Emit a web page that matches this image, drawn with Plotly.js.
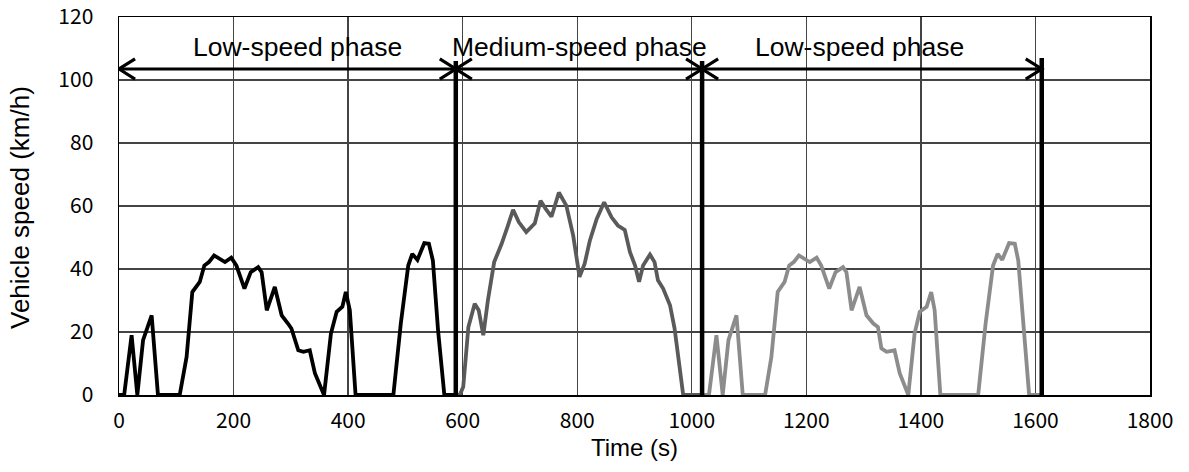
<!DOCTYPE html>
<html>
<head>
<meta charset="utf-8">
<script src="https://cdn.plot.ly/plotly-3.0.1.min.js"></script>
<style>html,body{margin:0;padding:0;background:#fff;}#chart{width:1189px;height:472px;}</style>
</head>
<body>
<div id="chart"></div>
<script>
// Phase 1: low-speed (0-588 s)
const lowTime1 = [0, 9, 22, 32, 42, 57, 68, 106, 118, 128, 141, 149, 157, 166, 185, 196, 205, 219, 230, 243, 249, 258, 272, 284, 295, 301, 313, 322, 333, 342, 358, 370, 380, 390, 396, 403, 413, 479, 492, 505, 512, 521, 533, 541, 548, 557, 568, 588];
const lowSpeed1 = [0, 0, 19, 0, 17.4, 25.3, 0, 0, 12.1, 32.7, 35.9, 41.1, 42.2, 44.3, 42.2, 43.6, 41.1, 33.8, 39, 40.6, 39, 26.9, 34.3, 25.3, 22.7, 21.1, 14.2, 13.7, 14.2, 6.9, 0, 19.5, 26.4, 28, 32.7, 26.9, 0, 0, 22.7, 41.1, 44.8, 42.9, 48.2, 48, 42.7, 20.6, 0, 0];

// Phase 2: medium-speed (588-1018 s)
const medTime = [588, 595, 601, 610, 621, 628, 636, 644, 655, 668, 679, 688, 698, 711, 726, 736, 745, 755, 768, 781, 793, 804, 813, 822, 834, 847, 860, 871, 883, 892, 901, 908, 915, 927, 935, 941, 950, 962, 970, 977, 985, 1018];
const medSpeed = [0, 0, 2.6, 21.6, 29, 26.9, 19, 30, 42.2, 48, 53.8, 58.8, 54.9, 51.7, 54.5, 61.7, 59.1, 56.6, 64.3, 60.1, 50.6, 37.5, 41.7, 49, 55.9, 61.2, 56.4, 53.8, 52.4, 45.4, 41.1, 35.9, 41.1, 44.6, 42.2, 36.4, 33.8, 28.5, 21.1, 12.1, 0, 0];

// Phase 3: low-speed (1018-1611 s)
const lowTime2 = [1018, 1030, 1043, 1054, 1064, 1078, 1089, 1128, 1139, 1150, 1162, 1170, 1178, 1187, 1206, 1218, 1226, 1240, 1251, 1264, 1270, 1279, 1293, 1305, 1317, 1325, 1331, 1340, 1354, 1363, 1378, 1389, 1398, 1410, 1418, 1424, 1434, 1500, 1513, 1526, 1534, 1542, 1554, 1564, 1570, 1579, 1589, 1611];
const lowSpeed2 = [0, 0, 19, 0, 17.4, 25.3, 0, 0, 12.1, 32.7, 35.9, 41.1, 42.2, 44.3, 42.2, 43.6, 41.1, 33.8, 39, 40.6, 39, 26.9, 34.3, 25.3, 22.7, 21.6, 14.8, 13.7, 14.2, 6.9, 0, 19.5, 26.4, 28, 32.7, 26.9, 0, 0, 22.7, 41.1, 44.8, 42.9, 48.2, 48, 42.7, 20.6, 0, 0];

// Phase annotations
const phaseBounds = [0, 588, 1018, 1611];
const phaseLabels = ["Low-speed phase", "Medium-speed phase", "Low-speed phase"];
const phaseLabelX = [312, 804, 1292];
const dividerTimes = [588, 1018, 1611];
const dividerTop = [106, 106, 107];
const arrowLevel = 103.5;
const labelLevel = 110.5;
const yTitleText = 'Vehicle speed (km/h)';
const xTitleText = 'Time (s)';

const lineStyle = (c) => ({color: c, width: 3.8});
const traces = [
  {x: lowTime1, y: lowSpeed1, type: 'scatter', mode: 'lines', line: lineStyle('#000000'), hoverinfo: 'skip'},
  {x: medTime, y: medSpeed, type: 'scatter', mode: 'lines', line: lineStyle('#5a5a5a'), hoverinfo: 'skip'},
  {x: lowTime2, y: lowSpeed2, type: 'scatter', mode: 'lines', line: lineStyle('#8c8c8c'), hoverinfo: 'skip'}
];

const shapes = [];
dividerTimes.forEach((t, i) => {
  shapes.push({type: 'line', xref: 'x', yref: 'y', x0: t, x1: t, y0: 0, y1: dividerTop[i], line: {color: '#000', width: 4.5}});
});
const headDx = 28, headDy = 3.2;
for (let i = 0; i < phaseBounds.length - 1; i++) {
  const a = phaseBounds[i], b = phaseBounds[i + 1];
  shapes.push({type: 'line', xref: 'x', yref: 'y', x0: a, x1: b, y0: arrowLevel, y1: arrowLevel, line: {color: '#000', width: 3.2}});
  shapes.push({type: 'path', xref: 'x', yref: 'y',
    path: `M ${a + headDx} ${arrowLevel + headDy} L ${a} ${arrowLevel} L ${a + headDx} ${arrowLevel - headDy}`,
    line: {color: '#000', width: 3.2}});
  shapes.push({type: 'path', xref: 'x', yref: 'y',
    path: `M ${b - headDx} ${arrowLevel + headDy} L ${b} ${arrowLevel} L ${b - headDx} ${arrowLevel - headDy}`,
    line: {color: '#000', width: 3.2}});
}

const annotations = phaseLabels.map((txt, i) => ({
  x: phaseLabelX[i], y: labelLevel, xref: 'x', yref: 'y', text: txt, showarrow: false,
  font: {family: 'Liberation Sans, Arial, sans-serif', size: 26.5, color: '#000'}
}));
annotations.push({
  x: 0, y: 0.5, xref: 'paper', yref: 'paper', xanchor: 'center', yanchor: 'middle',
  xshift: -99, yshift: -2, textangle: -90, text: yTitleText, showarrow: false,
  font: {family: 'Liberation Sans, Arial, sans-serif', size: 26, color: '#000'}
});

const tickFont = {family: 'Noto Sans CJK JP, Liberation Sans, sans-serif', size: 21, color: '#000'};
const titleFont = {family: 'Liberation Sans, Arial, sans-serif', size: 24, color: '#000'};

const layout = {
  width: 1189, height: 472,
  margin: {l: 119, r: 39, t: 17, b: 77},
  paper_bgcolor: '#fff', plot_bgcolor: '#fff',
  showlegend: false,
  xaxis: {
    range: [0, 1800], dtick: 200, tick0: 0,
    showgrid: true, gridcolor: '#444', gridwidth: 1.3,
    zeroline: false, showline: true, linecolor: '#000', linewidth: 1.5, mirror: true,
    ticks: '', tickfont: tickFont, ticklabelstandoff: 6,
    title: {text: xTitleText, font: titleFont, standoff: 2}
  },
  yaxis: {
    range: [0, 120], dtick: 20, tick0: 0,
    showgrid: true, gridcolor: '#444', gridwidth: 1.3,
    zeroline: false, showline: true, linecolor: '#000', linewidth: 1.5, mirror: true,
    ticks: '', tickfont: tickFont, ticklabelstandoff: 20
  },
  shapes: shapes,
  annotations: annotations
};

Plotly.newPlot('chart', traces, layout, {displayModeBar: false, staticPlot: true});
</script>
</body>
</html>
